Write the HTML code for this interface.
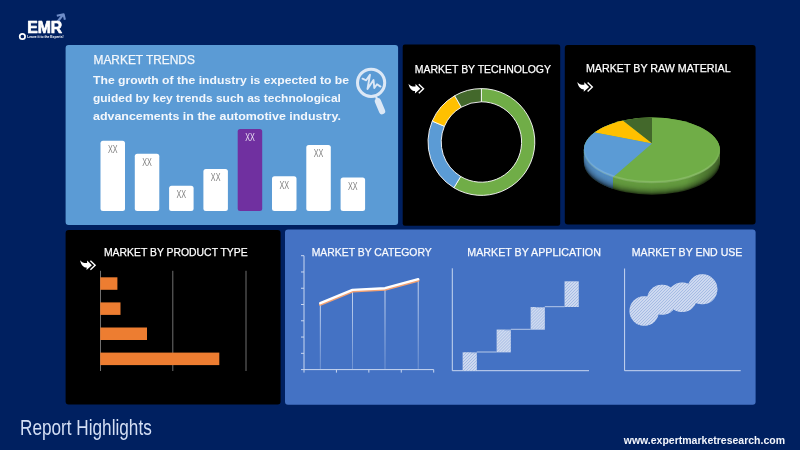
<!DOCTYPE html>
<html lang="en"><head><meta charset="utf-8"><title>Report Highlights</title>
<style>
html,body{margin:0;padding:0;background:#002060;}
body{width:800px;height:450px;overflow:hidden;font-family:"Liberation Sans",sans-serif;}
svg{display:block;position:absolute;left:0;top:0}
text{font-family:"Liberation Sans",sans-serif;}
.t{fill:#fff;font-size:10.8px}
.k{stroke:#fff;stroke-width:0.25px}
.xx{fill:#7f7f7f;font-size:10.2px}
</style></head><body>
<svg width="800" height="450" viewBox="0 0 800 450">
<defs>
<symbol id="chev" viewBox="0 0 16 10" overflow="visible">
<path d="M0,0 C1.6,2.2 4,3 7,2.8 L7,0.2 L11.8,5 L6.4,9.8 L6.6,7.4 C3.4,7.3 1,5 0,0 Z" fill="#fff"/>
<path d="M10.3,0.6 L15,5 L10.3,9.5" fill="none" stroke="#fff" stroke-width="1.4"/>
</symbol>
<linearGradient id="sideg" x1="0" y1="0" x2="1" y2="0">
<stop offset="0" stop-color="#000" stop-opacity="0.05"/>
<stop offset="0.5" stop-color="#000" stop-opacity="0.25"/>
<stop offset="1" stop-color="#000" stop-opacity="0.45"/>
</linearGradient>
</defs>
<rect width="800" height="450" fill="#002060"/>

<rect x="65.6" y="45" width="332.5" height="180" rx="3" fill="#5b9bd5"/>
<rect x="402.7" y="44.5" width="157.5" height="181.2" rx="2.2" fill="#000"/>
<rect x="564.8" y="45" width="190.8" height="179.6" rx="3" fill="#000"/>
<rect x="65.6" y="230" width="215" height="174.5" rx="3" fill="#000"/>
<rect x="285" y="229.6" width="470.6" height="175.1" rx="3" fill="#4472c4"/>
<g id="logo">
<path d="M57.5,21.8 L63,14.8" stroke="#6f8dc8" stroke-width="2.2" fill="none"/>
<path d="M56.8,15.7 L63.6,14.2 L64.9,19.8" stroke="#6f8dc8" stroke-width="2.1" fill="none" stroke-linejoin="round"/>
<text class="t" x="27.2" y="33.15" textLength="35" lengthAdjust="spacingAndGlyphs" style="font-size:16.2px;font-weight:700;stroke:#fff;stroke-width:0.7px;stroke-linejoin:round">EMR</text>
<circle cx="22.4" cy="36.5" r="2.7" fill="none" stroke="#fff" stroke-width="1.7"/>
<text class="t" x="27.2" y="37.7" textLength="36.4" lengthAdjust="spacingAndGlyphs" style="font-size:3.6px;font-weight:700">Leave it to the Experts!</text>
</g>
<text class="t" x="93.5" y="64.2" textLength="101.4" lengthAdjust="spacingAndGlyphs" style="font-size:12px;fill:#f3f7fc;stroke:#f3f7fc;stroke-width:0.25px">MARKET TRENDS</text>
<text class="t" x="93" y="83.7" textLength="256.1" lengthAdjust="spacingAndGlyphs" style="font-size:11.7px;font-weight:700;fill:#f3f7fc">The growth of the industry is expected to be</text>
<text class="t" x="93" y="102" textLength="247.9" lengthAdjust="spacingAndGlyphs" style="font-size:11.7px;font-weight:700;fill:#f3f7fc">guided by key trends such as technological</text>
<text class="t" x="93" y="120.3" textLength="247.9" lengthAdjust="spacingAndGlyphs" style="font-size:11.7px;font-weight:700;fill:#f3f7fc">advancements in the automotive industry.</text>
<g fill="none" stroke="#dce8f6" stroke-linecap="round" stroke-linejoin="round">
<circle cx="371.1" cy="82.8" r="13.6" stroke-width="3"/>
<path d="M376.3,97.6 L378.2,101.3" stroke-width="2.2"/>
<path d="M377.9,101.3 L382.1,111.2" stroke-width="6.2"/>
<path d="M362.5,78.7 L366.2,80.3 L370,74.7 L367.5,89 L373.5,80 L374.3,88 L377,84.3 L380.5,86.6" stroke-width="1.9"/>
</g>
<rect x="100.5" y="140.75" width="24.5" height="70.25" rx="2.5" fill="#fff"/>
<text class="xx" x="112.75" y="153.15" text-anchor="middle" textLength="9.6" lengthAdjust="spacingAndGlyphs" style="fill:#7f7f7f">XX</text>
<rect x="134.8" y="153.75" width="24.5" height="57.25" rx="2.5" fill="#fff"/>
<text class="xx" x="147.05" y="166.15" text-anchor="middle" textLength="9.6" lengthAdjust="spacingAndGlyphs" style="fill:#7f7f7f">XX</text>
<rect x="169.1" y="185.75" width="24.5" height="25.25" rx="2.5" fill="#fff"/>
<text class="xx" x="181.35" y="198.15" text-anchor="middle" textLength="9.6" lengthAdjust="spacingAndGlyphs" style="fill:#7f7f7f">XX</text>
<rect x="203.4" y="169" width="24.5" height="42.00" rx="2.5" fill="#fff"/>
<text class="xx" x="215.65" y="181.40" text-anchor="middle" textLength="9.6" lengthAdjust="spacingAndGlyphs" style="fill:#7f7f7f">XX</text>
<rect x="237.7" y="129" width="24.5" height="82.00" rx="2.5" fill="#7030a0"/>
<text class="xx" x="249.95" y="141.40" text-anchor="middle" textLength="9.6" lengthAdjust="spacingAndGlyphs" style="fill:#e9dff2">XX</text>
<rect x="272" y="176.25" width="24.5" height="34.75" rx="2.5" fill="#fff"/>
<text class="xx" x="284.25" y="188.65" text-anchor="middle" textLength="9.6" lengthAdjust="spacingAndGlyphs" style="fill:#7f7f7f">XX</text>
<rect x="306.3" y="145" width="24.5" height="66.00" rx="2.5" fill="#fff"/>
<text class="xx" x="318.55" y="157.40" text-anchor="middle" textLength="9.6" lengthAdjust="spacingAndGlyphs" style="fill:#7f7f7f">XX</text>
<rect x="340.6" y="177.5" width="24.5" height="33.50" rx="2.5" fill="#fff"/>
<text class="xx" x="352.85" y="189.90" text-anchor="middle" textLength="9.6" lengthAdjust="spacingAndGlyphs" style="fill:#7f7f7f">XX</text>
<text class="t k" x="414.75" y="72.7" textLength="136.25" lengthAdjust="spacingAndGlyphs" >MARKET BY TECHNOLOGY</text>
<text class="t k" x="585.9" y="72.2" textLength="144.7" lengthAdjust="spacingAndGlyphs" >MARKET BY RAW MATERIAL</text>
<text class="t k" x="103.9" y="255.8" textLength="143.8" lengthAdjust="spacingAndGlyphs" >MARKET BY PRODUCT TYPE</text>
<text class="t k" x="311.7" y="256" textLength="120" lengthAdjust="spacingAndGlyphs" style="fill:#f6f8fd">MARKET BY CATEGORY</text>
<text class="t k" x="467.3" y="256" textLength="133.6" lengthAdjust="spacingAndGlyphs" style="fill:#f6f8fd">MARKET BY APPLICATION</text>
<text class="t k" x="631.8" y="256" textLength="110.6" lengthAdjust="spacingAndGlyphs" style="fill:#f6f8fd">MARKET BY END USE</text>
<use href="#chev" x="408.5" y="83.7" width="16" height="10"/>
<use href="#chev" x="577.3" y="82" width="16" height="10"/>
<use href="#chev" x="80.1" y="260.2" width="16" height="10"/>
<path d="M481.40,88.60 A53.4,53.4 0 1 1 453.90,187.77 L460.70,176.46 A40.2,40.2 0 1 0 481.40,101.80 Z" fill="#70ad47" stroke="#fff" stroke-width="0.9" stroke-linejoin="round"/>
<path d="M453.90,187.77 A53.4,53.4 0 0 1 432.25,121.13 L444.40,126.29 A40.2,40.2 0 0 0 460.70,176.46 Z" fill="#5b9bd5" stroke="#fff" stroke-width="0.9" stroke-linejoin="round"/>
<path d="M432.25,121.13 A53.4,53.4 0 0 1 454.70,95.75 L461.30,107.19 A40.2,40.2 0 0 0 444.40,126.29 Z" fill="#ffc000" stroke="#fff" stroke-width="0.9" stroke-linejoin="round"/>
<path d="M454.70,95.75 A53.4,53.4 0 0 1 481.40,88.60 L481.40,101.80 A40.2,40.2 0 0 0 461.30,107.19 Z" fill="#43682b" stroke="#fff" stroke-width="0.9" stroke-linejoin="round"/>
<clipPath id="sideclip"><path d="M583.9,150 L583.9,162.3 A68,32.5 0 0 0 719.9,162.3 L719.9,150 A68,32.5 0 0 1 583.9,150 Z"/></clipPath>
<clipPath id="blueclip"><rect x="570" y="100" width="42.8" height="110"/></clipPath>
<linearGradient id="sideh" x1="0" y1="0" x2="1" y2="0"><stop offset="0" stop-color="#000" stop-opacity="0.1"/><stop offset="0.1" stop-color="#000" stop-opacity="0"/><stop offset="0.75" stop-color="#000" stop-opacity="0"/><stop offset="1" stop-color="#000" stop-opacity="0.35"/></linearGradient>
<linearGradient id="bev" x1="0" y1="0" x2="0" y2="1"><stop offset="0" stop-color="#fff" stop-opacity="0"/><stop offset="0.45" stop-color="#fff" stop-opacity="0"/><stop offset="0.8" stop-color="#fff" stop-opacity="0.15"/><stop offset="1" stop-color="#fff" stop-opacity="0.15"/></linearGradient>
<g><ellipse cx="651.9" cy="162.30" rx="68" ry="32.5" fill="#273c18"/><ellipse cx="651.9" cy="161.35" rx="68" ry="32.5" fill="#345021"/><ellipse cx="651.9" cy="160.41" rx="68" ry="32.5" fill="#3f6228"/><ellipse cx="651.9" cy="159.46" rx="68" ry="32.5" fill="#48702e"/><ellipse cx="651.9" cy="158.52" rx="68" ry="32.5" fill="#507c32"/><ellipse cx="651.9" cy="157.57" rx="68" ry="32.5" fill="#568536"/><ellipse cx="651.9" cy="156.62" rx="68" ry="32.5" fill="#5b8c39"/><ellipse cx="651.9" cy="155.68" rx="68" ry="32.5" fill="#5e923c"/><ellipse cx="651.9" cy="154.73" rx="68" ry="32.5" fill="#61963d"/><ellipse cx="651.9" cy="153.78" rx="68" ry="32.5" fill="#63983e"/><ellipse cx="651.9" cy="152.84" rx="68" ry="32.5" fill="#649a3f"/><ellipse cx="651.9" cy="151.89" rx="68" ry="32.5" fill="#649b3f"/><ellipse cx="651.9" cy="150.95" rx="68" ry="32.5" fill="#649b3f"/><ellipse cx="651.9" cy="150.00" rx="68" ry="32.5" fill="#649b3f"/></g>
<g clip-path="url(#blueclip)"><ellipse cx="651.9" cy="162.30" rx="68" ry="32.5" fill="#1f364a"/><ellipse cx="651.9" cy="161.35" rx="68" ry="32.5" fill="#2a4863"/><ellipse cx="651.9" cy="160.41" rx="68" ry="32.5" fill="#335778"/><ellipse cx="651.9" cy="159.46" rx="68" ry="32.5" fill="#3b648a"/><ellipse cx="651.9" cy="158.52" rx="68" ry="32.5" fill="#416f98"/><ellipse cx="651.9" cy="157.57" rx="68" ry="32.5" fill="#4677a4"/><ellipse cx="651.9" cy="156.62" rx="68" ry="32.5" fill="#4a7ead"/><ellipse cx="651.9" cy="155.68" rx="68" ry="32.5" fill="#4c83b4"/><ellipse cx="651.9" cy="154.73" rx="68" ry="32.5" fill="#4f86b9"/><ellipse cx="651.9" cy="153.78" rx="68" ry="32.5" fill="#5089bc"/><ellipse cx="651.9" cy="152.84" rx="68" ry="32.5" fill="#518abe"/><ellipse cx="651.9" cy="151.89" rx="68" ry="32.5" fill="#518bbf"/><ellipse cx="651.9" cy="150.95" rx="68" ry="32.5" fill="#518bbf"/><ellipse cx="651.9" cy="150.00" rx="68" ry="32.5" fill="#518bbf"/></g>
<rect x="583.9" y="140" width="136" height="60" fill="url(#sideh)" clip-path="url(#sideclip)"/>
<clipPath id="pietop"><ellipse cx="651.9" cy="150" rx="68" ry="32.5"/></clipPath>
<g clip-path="url(#pietop)">
<rect x="580" y="110" width="150" height="80" fill="#70ad47"/>
<polygon points="652,143.5 652.0,43.5 564.3,74.7" fill="#43682b"/>
<polygon points="652,143.5 564.3,74.7 484.3,111.3" fill="#ffc000"/>
<polygon points="652,143.5 484.3,111.3 352,183.5 535.3,244.6" fill="#5b9bd5"/>
</g>
<ellipse cx="651.9" cy="150" rx="67.4" ry="32.1" fill="none" stroke="url(#bev)" stroke-width="2.2"/>
<line x1="100.5" y1="270.8" x2="100.5" y2="371" stroke="#8c8c8c" stroke-width="0.8"/>
<line x1="172.8" y1="270.8" x2="172.8" y2="371" stroke="#8c8c8c" stroke-width="0.8"/>
<line x1="246" y1="270.8" x2="246" y2="371" stroke="#8c8c8c" stroke-width="0.8"/>
<rect x="100.2" y="277.3" width="17.20" height="12.5" fill="#ed7d31"/>
<rect x="100.2" y="302.4" width="20.30" height="12.5" fill="#ed7d31"/>
<rect x="100.2" y="327.5" width="46.80" height="12.5" fill="#ed7d31"/>
<rect x="100.2" y="352.6" width="119.10" height="12.5" fill="#ed7d31"/>
<g stroke="#c9d7f0" stroke-width="1" fill="none">
<path d="M304,255.7 L304,369.6 L433.7,369.6"/>
<line x1="301" y1="255.70" x2="304" y2="255.70"/>
<line x1="301" y1="271.97" x2="304" y2="271.97"/>
<line x1="301" y1="288.24" x2="304" y2="288.24"/>
<line x1="301" y1="304.51" x2="304" y2="304.51"/>
<line x1="301" y1="320.79" x2="304" y2="320.79"/>
<line x1="301" y1="337.06" x2="304" y2="337.06"/>
<line x1="301" y1="353.33" x2="304" y2="353.33"/>
<line x1="301" y1="369.60" x2="304" y2="369.60"/>
<line x1="304.00" y1="369.6" x2="304.00" y2="372.6"/>
<line x1="336.43" y1="369.6" x2="336.43" y2="372.6"/>
<line x1="368.85" y1="369.6" x2="368.85" y2="372.6"/>
<line x1="401.27" y1="369.6" x2="401.27" y2="372.6"/>
<line x1="433.70" y1="369.6" x2="433.70" y2="372.6"/>
</g>
<linearGradient id="dropg" x1="0" y1="0" x2="0" y2="1"><stop offset="0" stop-color="#dfe8f8" stop-opacity="0.95"/><stop offset="1" stop-color="#dfe8f8" stop-opacity="0.3"/></linearGradient>
<rect x="319.85" y="303.2" width="0.9" height="65.80" fill="url(#dropg)"/>
<rect x="352.05" y="289.9" width="0.9" height="79.10" fill="url(#dropg)"/>
<rect x="384.55" y="288.2" width="0.9" height="80.80" fill="url(#dropg)"/>
<rect x="417.75" y="279.2" width="0.9" height="89.80" fill="url(#dropg)"/>
<polyline points="320.3,304.4 352.5,291.09999999999997 385,289.4 418.2,280.4" fill="none" stroke="#f2a173" stroke-width="2.8" stroke-linejoin="round" stroke-linecap="round"/>
<polyline points="320.3,303.2 352.5,289.9 385,288.2 418.2,279.2" fill="none" stroke="#fff" stroke-width="2.4" stroke-linejoin="round" stroke-linecap="round"/>
<path d="M452.3,268.3 L452.3,370.7 L589,370.7" stroke="#c9d7f0" stroke-width="1" fill="none"/>
<clipPath id="stepclip"><rect x="462.7" y="352.3" width="14.1" height="18.40"/><rect x="496.7" y="329.6" width="14.1" height="22.70"/><rect x="530.7" y="307" width="14.1" height="22.60"/><rect x="564.6" y="281.4" width="14.1" height="25.60"/></clipPath>
<rect x="462.7" y="352.3" width="14.1" height="18.40" fill="#f6f8fd"/>
<path d="M441.30,371.7L461.70,351.3M442.80,371.7L463.20,351.3M444.30,371.7L464.70,351.3M445.80,371.7L466.20,351.3M447.30,371.7L467.70,351.3M448.80,371.7L469.20,351.3M450.30,371.7L470.70,351.3M451.80,371.7L472.20,351.3M453.30,371.7L473.70,351.3M454.80,371.7L475.20,351.3M456.30,371.7L476.70,351.3M457.80,371.7L478.20,351.3M459.30,371.7L479.70,351.3M460.80,371.7L481.20,351.3M462.30,371.7L482.70,351.3M463.80,371.7L484.20,351.3M465.30,371.7L485.70,351.3M466.80,371.7L487.20,351.3M468.30,371.7L488.70,351.3M469.80,371.7L490.20,351.3M471.30,371.7L491.70,351.3M472.80,371.7L493.20,351.3M474.30,371.7L494.70,351.3M475.80,371.7L496.20,351.3M477.30,371.7L497.70,351.3" stroke="#4472c4" stroke-width="0.45" fill="none" clip-path="url(#stepclip)"/>
<line x1="476.8" y1="352.0" x2="496.7" y2="352.0" stroke="#d3def3" stroke-width="0.8"/>
<rect x="496.7" y="329.6" width="14.1" height="22.70" fill="#f6f8fd"/>
<path d="M471.00,353.3L495.70,328.6M472.50,353.3L497.20,328.6M474.00,353.3L498.70,328.6M475.50,353.3L500.20,328.6M477.00,353.3L501.70,328.6M478.50,353.3L503.20,328.6M480.00,353.3L504.70,328.6M481.50,353.3L506.20,328.6M483.00,353.3L507.70,328.6M484.50,353.3L509.20,328.6M486.00,353.3L510.70,328.6M487.50,353.3L512.20,328.6M489.00,353.3L513.70,328.6M490.50,353.3L515.20,328.6M492.00,353.3L516.70,328.6M493.50,353.3L518.20,328.6M495.00,353.3L519.70,328.6M496.50,353.3L521.20,328.6M498.00,353.3L522.70,328.6M499.50,353.3L524.20,328.6M501.00,353.3L525.70,328.6M502.50,353.3L527.20,328.6M504.00,353.3L528.70,328.6M505.50,353.3L530.20,328.6M507.00,353.3L531.70,328.6M508.50,353.3L533.20,328.6M510.00,353.3L534.70,328.6M511.50,353.3L536.20,328.6" stroke="#4472c4" stroke-width="0.45" fill="none" clip-path="url(#stepclip)"/>
<line x1="510.8" y1="329.3" x2="530.7" y2="329.3" stroke="#d3def3" stroke-width="0.8"/>
<rect x="530.7" y="307" width="14.1" height="22.60" fill="#f6f8fd"/>
<path d="M505.10,330.6L529.70,306M506.60,330.6L531.20,306M508.10,330.6L532.70,306M509.60,330.6L534.20,306M511.10,330.6L535.70,306M512.60,330.6L537.20,306M514.10,330.6L538.70,306M515.60,330.6L540.20,306M517.10,330.6L541.70,306M518.60,330.6L543.20,306M520.10,330.6L544.70,306M521.60,330.6L546.20,306M523.10,330.6L547.70,306M524.60,330.6L549.20,306M526.10,330.6L550.70,306M527.60,330.6L552.20,306M529.10,330.6L553.70,306M530.60,330.6L555.20,306M532.10,330.6L556.70,306M533.60,330.6L558.20,306M535.10,330.6L559.70,306M536.60,330.6L561.20,306M538.10,330.6L562.70,306M539.60,330.6L564.20,306M541.10,330.6L565.70,306M542.60,330.6L567.20,306M544.10,330.6L568.70,306M545.60,330.6L570.20,306" stroke="#4472c4" stroke-width="0.45" fill="none" clip-path="url(#stepclip)"/>
<line x1="544.8000000000001" y1="306.7" x2="564.6" y2="306.7" stroke="#d3def3" stroke-width="0.8"/>
<rect x="564.6" y="281.4" width="14.1" height="25.60" fill="#f6f8fd"/>
<path d="M536.00,308L563.60,280.4M537.50,308L565.10,280.4M539.00,308L566.60,280.4M540.50,308L568.10,280.4M542.00,308L569.60,280.4M543.50,308L571.10,280.4M545.00,308L572.60,280.4M546.50,308L574.10,280.4M548.00,308L575.60,280.4M549.50,308L577.10,280.4M551.00,308L578.60,280.4M552.50,308L580.10,280.4M554.00,308L581.60,280.4M555.50,308L583.10,280.4M557.00,308L584.60,280.4M558.50,308L586.10,280.4M560.00,308L587.60,280.4M561.50,308L589.10,280.4M563.00,308L590.60,280.4M564.50,308L592.10,280.4M566.00,308L593.60,280.4M567.50,308L595.10,280.4M569.00,308L596.60,280.4M570.50,308L598.10,280.4M572.00,308L599.60,280.4M573.50,308L601.10,280.4M575.00,308L602.60,280.4M576.50,308L604.10,280.4M578.00,308L605.60,280.4M579.50,308L607.10,280.4" stroke="#4472c4" stroke-width="0.45" fill="none" clip-path="url(#stepclip)"/>
<path d="M624.6,268.5 L624.6,370.7 L740.7,370.7" stroke="#c9d7f0" stroke-width="1" fill="none"/>
<clipPath id="bubclip"><circle cx="644.2" cy="311" r="14.7"/><circle cx="662" cy="299.8" r="15"/><circle cx="682.2" cy="297.3" r="14.8"/><circle cx="702.4" cy="289.3" r="15"/></clipPath>
<g fill="#f6f8fd"><circle cx="644.2" cy="311" r="14.7"/><circle cx="662" cy="299.8" r="15"/><circle cx="682.2" cy="297.3" r="14.8"/><circle cx="702.4" cy="289.3" r="15"/></g>
<path d="M574.00,327L628.00,273M575.50,327L629.50,273M577.00,327L631.00,273M578.50,327L632.50,273M580.00,327L634.00,273M581.50,327L635.50,273M583.00,327L637.00,273M584.50,327L638.50,273M586.00,327L640.00,273M587.50,327L641.50,273M589.00,327L643.00,273M590.50,327L644.50,273M592.00,327L646.00,273M593.50,327L647.50,273M595.00,327L649.00,273M596.50,327L650.50,273M598.00,327L652.00,273M599.50,327L653.50,273M601.00,327L655.00,273M602.50,327L656.50,273M604.00,327L658.00,273M605.50,327L659.50,273M607.00,327L661.00,273M608.50,327L662.50,273M610.00,327L664.00,273M611.50,327L665.50,273M613.00,327L667.00,273M614.50,327L668.50,273M616.00,327L670.00,273M617.50,327L671.50,273M619.00,327L673.00,273M620.50,327L674.50,273M622.00,327L676.00,273M623.50,327L677.50,273M625.00,327L679.00,273M626.50,327L680.50,273M628.00,327L682.00,273M629.50,327L683.50,273M631.00,327L685.00,273M632.50,327L686.50,273M634.00,327L688.00,273M635.50,327L689.50,273M637.00,327L691.00,273M638.50,327L692.50,273M640.00,327L694.00,273M641.50,327L695.50,273M643.00,327L697.00,273M644.50,327L698.50,273M646.00,327L700.00,273M647.50,327L701.50,273M649.00,327L703.00,273M650.50,327L704.50,273M652.00,327L706.00,273M653.50,327L707.50,273M655.00,327L709.00,273M656.50,327L710.50,273M658.00,327L712.00,273M659.50,327L713.50,273M661.00,327L715.00,273M662.50,327L716.50,273M664.00,327L718.00,273M665.50,327L719.50,273M667.00,327L721.00,273M668.50,327L722.50,273M670.00,327L724.00,273M671.50,327L725.50,273M673.00,327L727.00,273M674.50,327L728.50,273M676.00,327L730.00,273M677.50,327L731.50,273M679.00,327L733.00,273M680.50,327L734.50,273M682.00,327L736.00,273M683.50,327L737.50,273M685.00,327L739.00,273M686.50,327L740.50,273M688.00,327L742.00,273M689.50,327L743.50,273M691.00,327L745.00,273M692.50,327L746.50,273M694.00,327L748.00,273M695.50,327L749.50,273M697.00,327L751.00,273M698.50,327L752.50,273M700.00,327L754.00,273M701.50,327L755.50,273M703.00,327L757.00,273M704.50,327L758.50,273M706.00,327L760.00,273M707.50,327L761.50,273M709.00,327L763.00,273M710.50,327L764.50,273M712.00,327L766.00,273M713.50,327L767.50,273M715.00,327L769.00,273M716.50,327L770.50,273M718.00,327L772.00,273" stroke="#4472c4" stroke-width="0.45" fill="none" clip-path="url(#bubclip)"/>
<text class="t" x="20" y="435" textLength="131.75" lengthAdjust="spacingAndGlyphs" style="font-size:21.4px;fill:#d3def4">Report Highlights</text>
<text class="t" x="623.75" y="443.9" textLength="161.25" lengthAdjust="spacingAndGlyphs" style="font-size:10.6px;font-weight:700;fill:#f2f5fb">www.expertmarketresearch.com</text>
</svg></body></html>
